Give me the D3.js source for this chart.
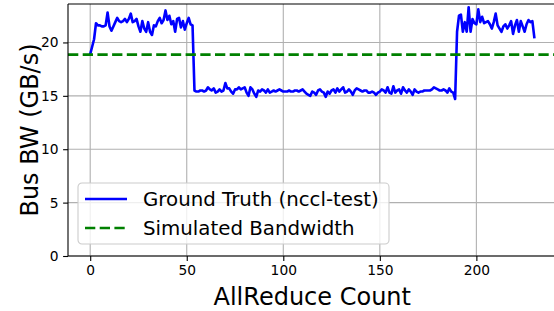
<!DOCTYPE html>
<html>
<head>
<meta charset="utf-8">
<script src="https://cdn.jsdelivr.net/npm/d3@7"></script>
<style>
	body { margin: 0; background: #fff; }
	svg { display: block; font-family: "DejaVu Sans", sans-serif; }
	.grid line { stroke: #b0b0b0; stroke-width: 1.1; }
	.axis path, .axis line { stroke: #000; stroke-width: 1.1; }
</style>
</head>
<body>
<div id="chart"></div>
<script>
// bus bandwidth per allreduce call (GB/s), index = call number
var groundTruth = [
	18.9, 19.6, 20.3, 21.8, 21.6, 21.6, 21.5, 21.5, 21.6, 22.8,
	21.5, 21.1, 21.5, 21.9, 22.3, 22.0, 21.9, 22.0, 22.2, 21.9,
	22.2, 22.7, 21.9, 22.0, 22.2, 21.5, 21.0, 22.0, 21.3, 21.0,
	21.9, 21.0, 20.7, 21.6, 21.5, 22.0, 22.3, 21.8, 22.1, 23.0,
	22.1, 22.5, 21.7, 22.0, 21.0, 22.2, 22.3, 21.4, 22.0, 21.2,
	21.8, 22.3, 21.7, 21.6,
	15.5, 15.4, 15.4, 15.5, 15.5, 15.4, 15.5, 15.8, 15.6, 15.5,
	15.7, 15.3, 15.4, 15.6, 15.4, 15.5, 16.2, 15.7, 15.7, 15.4,
	15.2, 15.6, 15.6, 15.8, 15.6, 15.7, 15.8, 15.3, 15.0, 15.8,
	15.6, 15.2, 14.9, 15.5, 15.4, 15.6, 15.5, 15.3, 15.6, 15.3,
	15.4, 15.5, 15.4, 15.5, 15.6, 15.5, 15.4, 15.4, 15.4, 15.5,
	15.4, 15.4, 15.5, 15.5, 15.4, 15.5, 15.6, 15.4, 15.2, 15.1,
	15.0, 15.4, 15.3, 15.1, 15.5, 15.6, 15.4, 15.3, 14.9, 15.4,
	15.2, 15.5, 15.6, 15.3, 15.7, 15.4, 15.6, 15.8, 15.3, 15.4,
	15.6, 15.4, 15.1, 15.5, 15.7, 15.6, 15.5, 15.4, 15.5, 15.5,
	15.3, 15.3, 15.4, 15.3, 15.1, 15.3, 15.4, 15.6, 15.5, 15.3,
	15.8, 15.3, 15.2, 15.9, 15.3, 15.5, 15.6, 15.2, 15.8, 15.5,
	15.3, 15.6, 15.4, 15.1, 15.6, 15.4, 15.3, 15.4, 15.4, 15.5,
	15.5, 15.5, 15.5, 15.6, 15.8, 15.7, 15.6, 15.5, 15.5, 15.6,
	15.5, 15.3, 15.7, 15.4, 15.3, 14.7,
	21.0, 22.5, 22.6, 21.0, 21.9, 21.0, 23.3, 21.0, 22.2, 21.8,
	21.7, 23.1, 21.9, 22.4, 21.8, 21.9, 22.0, 21.7, 21.3, 21.9,
	22.7, 21.6, 21.3, 21.0, 21.5, 21.7, 21.3, 21.6, 22.0, 20.8,
	21.6, 22.1, 21.0, 22.0, 21.5, 21.0, 21.7, 22.1, 21.9, 22.0,
	20.5
];
var simulatedBW = 18.85;

var xTicks = [0, 50, 100, 150, 200],
		yTicks = [0, 5, 10, 15, 20];

var seriesNames = ["Ground Truth (nccl-test)", "Simulated Bandwidth"];

var W = 554, H = 311;
var margin = {left: 68, right: 556.5, top: 4, bottom: 256};

var svg = d3.select("#chart").append("svg")
	.attr("width", W)
	.attr("height", H);

var x = d3.scaleLinear().domain([-11.5, 241.5]).range([margin.left, margin.right]),
		y = d3.scaleLinear().domain([0, 23.6]).range([margin.bottom, margin.top]);

svg.append("defs").append("clipPath")
		.attr("id", "clip")
	.append("rect")
		.attr("x", margin.left)
		.attr("y", margin.top)
		.attr("width", margin.right - margin.left)
		.attr("height", margin.bottom - margin.top);

// grid
var grid = svg.append("g").attr("class", "grid");
grid.selectAll(".gx").data(xTicks).enter().append("line")
	.attr("x1", function(d) { return x(d); })
	.attr("x2", function(d) { return x(d); })
	.attr("y1", margin.top)
	.attr("y2", margin.bottom);
grid.selectAll(".gy").data(yTicks).enter().append("line")
	.attr("x1", margin.left)
	.attr("x2", margin.right)
	.attr("y1", function(d) { return y(d); })
	.attr("y2", function(d) { return y(d); });

var plot = svg.append("g").attr("clip-path", "url(#clip)");

var line = d3.line()
	.x(function(d, i) { return x(i); })
	.y(function(d) { return y(d); });

plot.append("path")
	.datum(groundTruth)
	.attr("fill", "none")
	.attr("stroke", "#0000ff")
	.attr("stroke-width", 2.6)
	.attr("stroke-linejoin", "round")
	.attr("stroke-linecap", "square")
	.attr("d", line);

plot.append("line")
	.attr("x1", margin.left)
	.attr("x2", margin.right)
	.attr("y1", y(simulatedBW))
	.attr("y2", y(simulatedBW))
	.attr("stroke", "#008000")
	.attr("stroke-width", 2.8)
	.attr("stroke-dasharray", "10.3,4.4");

// axes
var xAxis = svg.append("g")
	.attr("class", "axis axis--x")
	.attr("transform", "translate(0," + margin.bottom + ")")
	.call(d3.axisBottom(x).tickValues(xTicks).tickSizeOuter(0).tickSize(4.9).tickPadding(4.5));

var yAxis = svg.append("g")
	.attr("class", "axis axis--y")
	.attr("transform", "translate(" + margin.left + ",0)")
	.call(d3.axisLeft(y).tickValues(yTicks).tickSizeOuter(0).tickSize(4.9).tickPadding(4.5));

svg.selectAll(".axis")
	.attr("font-size", 13.8)
	.attr("font-family", "DejaVu Sans, sans-serif");
svg.selectAll(".axis text").attr("fill", "#000");

xAxis.select(".domain").attr("d", "M" + margin.left + ",0H" + margin.right);
yAxis.select(".domain").attr("d", "M0," + margin.top + "V" + margin.bottom);

// top and right spines
svg.append("line")
	.attr("x1", margin.left).attr("x2", margin.right)
	.attr("y1", margin.top).attr("y2", margin.top)
	.attr("stroke", "#000").attr("stroke-width", 1.1);
svg.append("line")
	.attr("x1", margin.right).attr("x2", margin.right)
	.attr("y1", margin.top).attr("y2", margin.bottom)
	.attr("stroke", "#000").attr("stroke-width", 1.1);

// labels
svg.append("text")
	.attr("x", (margin.left + margin.right) / 2)
	.attr("y", 305)
	.attr("text-anchor", "middle")
	.attr("font-size", "24px")
	.text("AllReduce Count");

svg.append("text")
	.attr("transform", "translate(38," + ((margin.top + margin.bottom) / 2) + ") rotate(-90)")
	.attr("text-anchor", "middle")
	.attr("font-size", "24px")
	.text("Bus BW (GB/s)");

// legend
var legend = svg.append("g").attr("transform", "translate(78,183)");
legend.append("rect")
	.attr("width", 311)
	.attr("height", 61)
	.attr("rx", 4)
	.attr("fill", "#fff")
	.attr("fill-opacity", 0.8)
	.attr("stroke", "#cccccc")
	.attr("stroke-width", 1.1);

var legendStyles = [
	{color: "#0000ff", dash: null},
	{color: "#008000", dash: "10.3,4.4"}
];
seriesNames.forEach(function(name, i) {
	var ly = 16 + i * 29;
	legend.append("line")
		.attr("x1", 7).attr("x2", 49)
		.attr("y1", ly).attr("y2", ly)
		.attr("stroke", legendStyles[i].color)
		.attr("stroke-width", 2.7)
		.attr("stroke-dasharray", legendStyles[i].dash);
	legend.append("text")
		.attr("x", 65)
		.attr("y", ly + 7)
		.attr("font-size", "19.8px")
		.text(name);
});
</script>
</body>
</html>
